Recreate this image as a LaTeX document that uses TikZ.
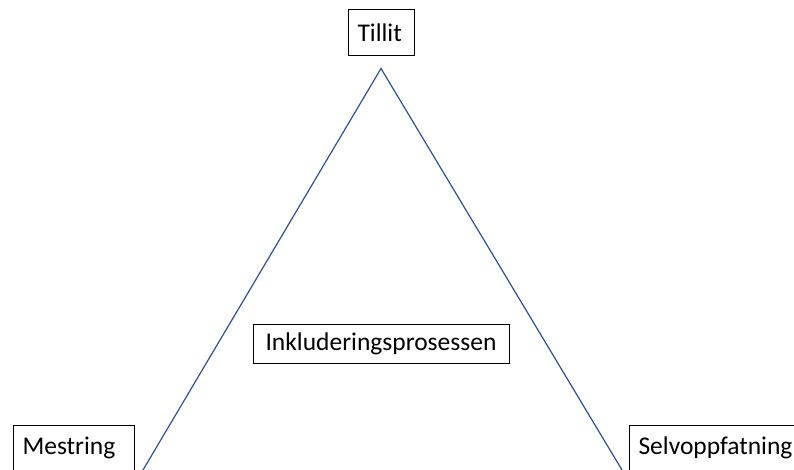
\documentclass[tikz,border=0pt]{standalone}
\usepackage{fontspec}
\setmainfont{Carlito}
\usepackage{xcolor}
\definecolor{linjeblaa}{HTML}{2F528F}
\usetikzlibrary{positioning}

\begin{document}
\begin{tikzpicture}[x=1pt, y=-1pt,
		boks/.style={draw, line width=1pt, inner ysep=0pt, inner xsep=9.5pt, align=left, font=\fontsize{25.5}{30}\selectfont},
		side/.style={draw=linjeblaa, line width=1.2pt}]
		\useasboundingbox (0,0) rectangle (794,470);
		
		\node[boks, text width=47pt, minimum height=46pt] (tillit) at (381,33) {Tillit};
		\node[boks, inner xsep=12pt, align=center, text width=232pt, minimum height=39pt] (inkl) at (381,343.5) {Inkluderingsprosessen};
		\node[boks, text width=102pt, minimum height=46pt] (mestring) at (73.5,448) {Mestring};
		\node[boks, text width=157pt, minimum height=46pt] (selv) at (717,448) {Selvoppfatning};
		
		\coordinate (venstre) at (140,475);
		\coordinate (hoyre) at (625,475);
		
		\draw[side] (venstre) -- ([yshift=-12pt]tillit.south) -- (hoyre);
		
	\end{tikzpicture}
\end{document}
